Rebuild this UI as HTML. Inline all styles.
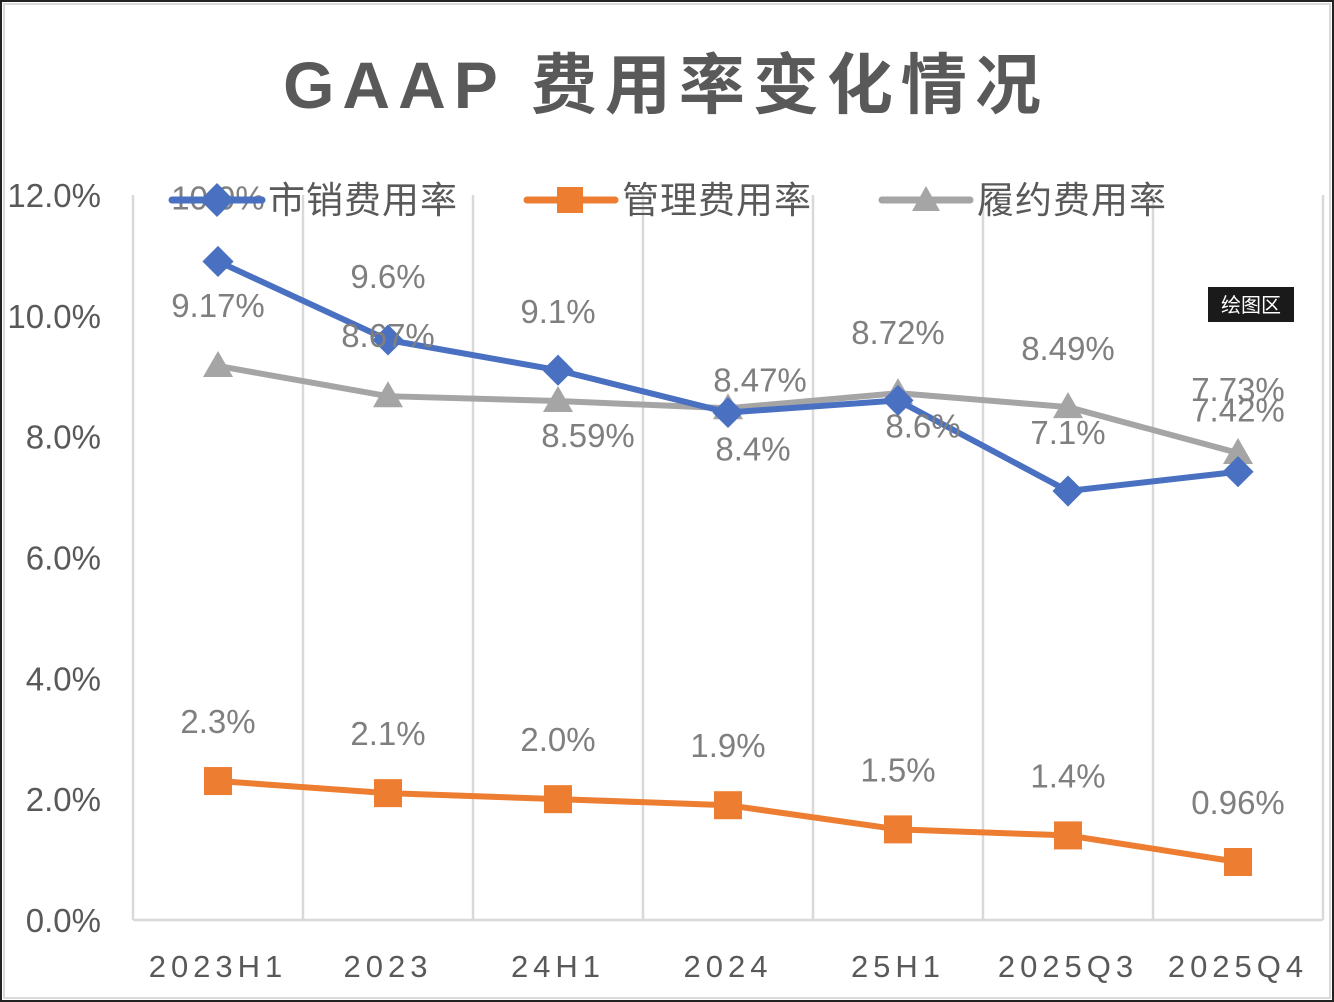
<!DOCTYPE html>
<html><head><meta charset="utf-8"><style>
html,body{margin:0;padding:0;background:#fff;}
svg{display:block;font-family:"Liberation Sans","Noto Sans CJK SC",sans-serif;}
</style></head><body>
<svg id="chart" width="1334" height="1002" viewBox="0 0 1334 1002">
<rect x="1" y="1" width="1332" height="1000" fill="#fff" stroke="#222" stroke-width="2"/>
<rect x="4" y="4" width="1326" height="994" fill="none" stroke="#d9d9d9" stroke-width="2"/>
<text x="666" y="108" text-anchor="middle" font-size="66" font-weight="bold" fill="#595959" letter-spacing="8">GAAP 费用率变化情况</text>
<g id="grid"></g>
<g id="yaxis"></g>
<g id="xaxis"></g>
<g id="series"></g>
<g id="labels"></g>
<g>
<g>
<line x1="172" y1="200" x2="262" y2="200" stroke="#4a70c2" stroke-width="7" stroke-linecap="round"/>
<rect x="205" y="188" width="24" height="24" fill="#4a70c2" transform="rotate(45 217 200)"/>
<text x="268" y="213" font-size="37" letter-spacing="1" fill="#595959">市销费用率</text></g>
<g>
<line x1="527" y1="200" x2="615" y2="200" stroke="#ed7d31" stroke-width="7" stroke-linecap="round"/>
<rect x="557" y="187" width="26" height="26" fill="#ed7d31"/>
<text x="622" y="213" font-size="37" letter-spacing="1" fill="#595959">管理费用率</text></g>
<g>
<line x1="882" y1="200" x2="970" y2="200" stroke="#a5a5a5" stroke-width="7" stroke-linecap="round"/>
<polygon points="926,186 940,211 912,211" fill="#a5a5a5"/>
<text x="977" y="213" font-size="37" letter-spacing="1" fill="#595959">履约费用率</text></g>
</g>
<g>
<rect x="1208" y="287" width="86" height="35" fill="#1a1a1a"/>
<text x="1251" y="312" text-anchor="middle" font-size="20" fill="#fff">绘图区</text></g>
</svg>
<script>
const categories=["2023H1","2023","24H1","2024","25H1","2025Q3","2025Q4"];
const marketing=[10.9,9.6,9.1,8.4,8.6,7.1,7.42];
const admin=[2.3,2.1,2.0,1.9,1.5,1.4,0.96];
const fulfillment=[9.17,8.67,8.59,8.47,8.72,8.49,7.73];
const marketingLabels=["10.9%","9.6%","9.1%","8.4%","8.6%","7.1%","7.42%"];
const adminLabels=["2.3%","2.1%","2.0%","1.9%","1.5%","1.4%","0.96%"];
const fulfillmentLabels=["9.17%","8.67%","8.59%","8.47%","8.72%","8.49%","7.73%"];
const yTicks=[0,2,4,6,8,10,12];
const yTickLabels=["0.0%","2.0%","4.0%","6.0%","8.0%","10.0%","12.0%"];
// label offsets (layout, not data)
const mOff=[[0,-64],[0,-64],[0,-59],[25,36],[25,25],[0,-59],[0,-62]];
const fOff=[[0,-61],[0,-61],[30,34],[32,-29],[0,-61],[0,-59],[0,-64]];
const NS="http://www.w3.org/2000/svg";
const L=133,R=1323,T=195,B=920,yMax=12;
const bw=(R-L)/categories.length;
const x=i=>L+bw*(i+0.5);
const y=v=>B-(v/yMax)*(B-T);
function mk(tag,attrs,parent){const e=document.createElementNS(NS,tag);for(const k in attrs)e.setAttribute(k,attrs[k]);parent.appendChild(e);return e;}
const grid=document.getElementById('grid'),yax=document.getElementById('yaxis'),xax=document.getElementById('xaxis'),ser=document.getElementById('series'),lab=document.getElementById('labels');
for(let i=0;i<=categories.length;i++){
 const g=mk('line',{x1:L+bw*i,x2:L+bw*i,y1:T,y2:B,stroke:'#d9d9d9','stroke-width':2.5},grid);
 
 
}
const ax=mk('line',{x1:L,x2:R,y1:B,y2:B,stroke:'#d9d9d9','stroke-width':2.5},grid);


yTicks.forEach((v,i)=>{
 const t=mk('text',{x:101,y:y(v)+12,'text-anchor':'end','font-size':33,fill:'#595959'},yax);
 t.textContent=yTickLabels[i];
 
 
});
categories.forEach((c,i)=>{
 const t=mk('text',{x:x(i),y:977,'text-anchor':'middle','font-size':31,fill:'#595959','letter-spacing':5},xax);
 t.textContent=c;
 
 
});
function series(vals,color,shape,name){
 const g=mk('g',{},ser);
 
 
 const pl=mk('polyline',{points:vals.map((v,i)=>x(i)+','+y(v)).join(' '),fill:'none',stroke:color,'stroke-width':6,'stroke-linejoin':'round'},g);
 
 
 vals.forEach((v,i)=>{
  const cx=x(i),cy=y(v);let m;
  if(shape==='diamond')m=mk('rect',{x:cx-11,y:cy-11,width:22,height:22,fill:color,transform:`rotate(45 ${cx} ${cy})`},g);
  else if(shape==='square')m=mk('rect',{x:cx-14,y:cy-14,width:28,height:28,fill:color},g);
  else m=mk('polygon',{points:`${cx},${cy-15} ${cx+15},${cy+11} ${cx-15},${cy+11}`,fill:color},g);
  
  
 });
}
series(fulfillment,'#a5a5a5','triangle','fulfillment');
series(marketing,'#4a70c2','diamond','marketing');
series(admin,'#ed7d31','square','admin');
function labels(vals,txt,off,name){
 vals.forEach((v,i)=>{
  const t=mk('text',{x:x(i)+off[i][0],y:y(v)+off[i][1]+12,'text-anchor':'middle','font-size':33,fill:'#7f7f7f'},lab);
  t.textContent=txt[i];
  
  
 });
}
labels(marketing,marketingLabels,mOff,'marketing');
labels(fulfillment,fulfillmentLabels,fOff,'fulfillment');
labels(admin,adminLabels,admin.map(()=>[0,-60]),'admin');
</script>
</body></html>
